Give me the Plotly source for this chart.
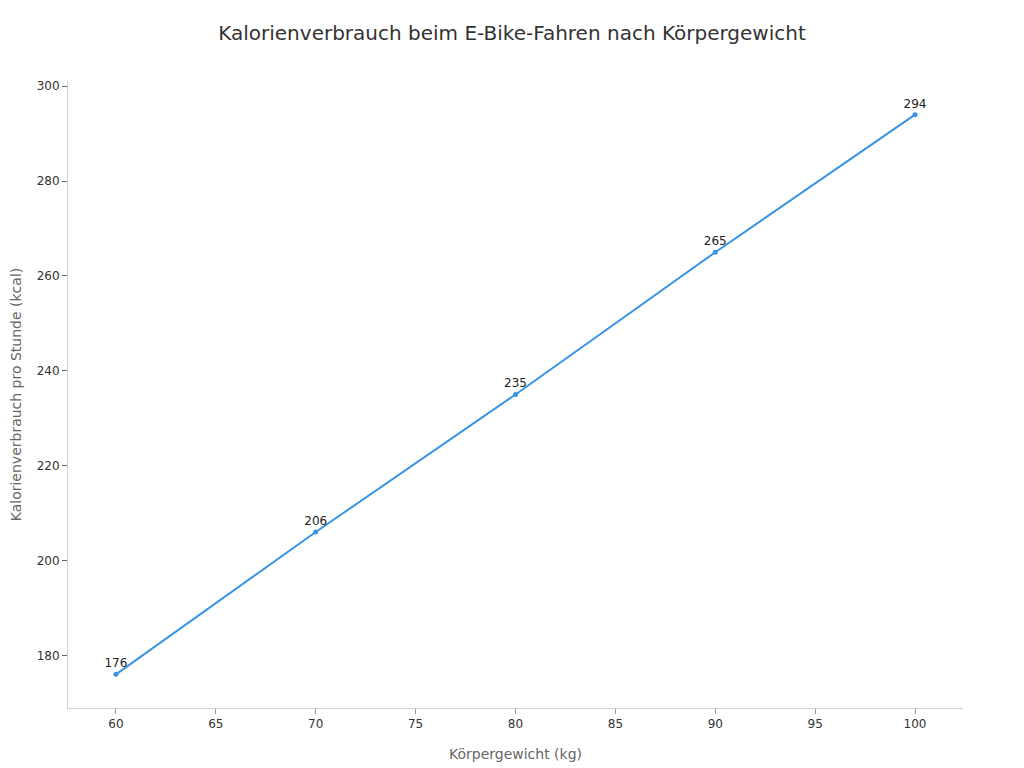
import plotly.graph_objects as go

# Körpergewicht (kg) und Kalorienverbrauch pro Stunde
gewicht = [60, 70, 80, 90, 100]
kalorien = [176, 206, 235, 265, 294]

x_ticks = [60, 65, 70, 75, 80, 85, 90, 95, 100]
y_ticks = [180, 200, 220, 240, 260, 280, 300]

fig = go.Figure()

fig.add_trace(go.Scatter(
    x=gewicht,
    y=kalorien,
    mode="lines+markers+text",
    text=[str(v) for v in kalorien],
    textposition="top center",
    textfont=dict(size=12, color="#222222"),
    line=dict(color="#3a94e3", width=2),
    marker=dict(color="#3a94e3", size=5),
    hoverinfo="x+y",
    showlegend=False,
))

# page body adds an 8px margin, so the margins are shifted to compensate
fig.update_layout(
    width=1024,
    height=768,
    font=dict(family="DejaVu Sans", size=12, color="#333333"),
    title=dict(
        text="Kalorienverbrauch beim E-Bike-Fahren nach Körpergewicht",
        x=0.4922,
        xanchor="center",
        y=0.9674,
        yanchor="middle",
        font=dict(size=20, color="#333333"),
    ),
    margin=dict(l=60, r=69, t=73, b=68),
    plot_bgcolor="white",
    paper_bgcolor="white",
    xaxis=dict(
        title=dict(text="Körpergewicht (kg)", font=dict(size=14, color="#666666"), standoff=18),
        range=[57.6, 102.4],
        tickmode="array",
        tickvals=x_ticks,
        showgrid=False,
        zeroline=False,
        showline=True,
        linecolor="#d0d0d0",
        linewidth=1,
        ticks="outside",
        tickcolor="#999999",
        ticklen=5,
        automargin=False,
    ),
    yaxis=dict(
        title=dict(text="Kalorienverbrauch pro Stunde (kcal)", font=dict(size=14, color="#666666"), standoff=14),
        range=[168.9, 301.1],
        tickmode="array",
        tickvals=y_ticks,
        showgrid=False,
        zeroline=False,
        showline=True,
        linecolor="#d0d0d0",
        linewidth=1,
        ticks="outside",
        tickcolor="#666666",
        ticklen=5,
        automargin=False,
    ),
)

fig.write_html("out.html")
